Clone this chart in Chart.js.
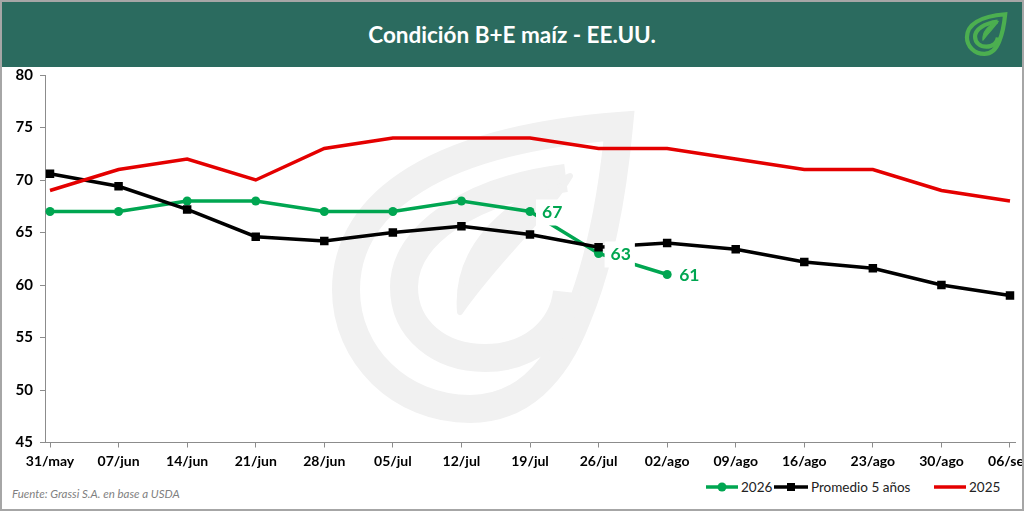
<!DOCTYPE html>
<html>
<head>
<meta charset="utf-8">
<script src="https://cdn.jsdelivr.net/npm/chart.js@4/dist/chart.umd.min.js"></script>
<style>
  html,body{margin:0;padding:0;background:#fff;}
  #wrap{position:relative;width:1024px;height:511px;overflow:hidden;background:#fff;font-family:Lato,"Open Sans",sans-serif;}
  #frame{position:absolute;left:0;top:0;width:1024px;height:511px;box-sizing:border-box;border:2px solid #a6a6a6;pointer-events:none;z-index:5;}
  #header{position:absolute;left:0;top:0;width:1024px;height:67px;background:#2b6b5f;}
  #title{position:absolute;left:0;top:0;width:1024px;height:67px;line-height:70px;text-align:center;color:#fff;font-weight:700;font-size:22.5px;}
  #wm{position:absolute;left:0;top:0;z-index:0;}
  #cv{position:absolute;left:0;top:67px;z-index:1;}
  .leg{position:absolute;top:478px;height:18px;display:flex;align-items:center;font-size:13.5px;color:#222;z-index:2;}
  .leg svg{display:block;margin-right:2px;}
  #src{position:absolute;left:12px;top:487px;font-size:11.5px;font-style:italic;color:#7f7f7f;z-index:2;}
</style>
</head>
<body>
<div id="wrap">
  <svg id="wm" width="1024" height="511" viewBox="0 0 1024 511">
    <g fill="none" stroke="#f1f1f1">
      <path d="M 619 126 C 612 200 600 262 577 318 C 555 375 520 409 470 409 C 400 409 346 355 346 290 C 346 200 440 140 619 126 Z" stroke-width="28" stroke-linejoin="miter"/>
      <path d="M 566 178 C 470 190 404 235 404 287 C 404 330 440 358 485 358 C 530 358 563 330 567 292" stroke-width="28"/>
      <path d="M 460 312 C 455 250 500 205 570 176 C 545 218 500 255 460 312 Z" fill="#f1f1f1" stroke-width="6" stroke-linejoin="round"/>
    </g>
  </svg>
  <div id="header"></div>
  <div id="title">Condición B+E maíz - EE.UU.</div>
  <svg style="position:absolute;left:0;top:0;z-index:3" width="1024" height="67" viewBox="0 0 1024 67">
    <g transform="translate(918.5,-3.4) scale(0.14)" fill="none" stroke="#4caf50">
      <path d="M 619 126 C 612 200 600 262 577 318 C 555 375 520 409 470 409 C 400 409 346 355 346 290 C 346 200 440 140 619 126 Z" stroke-width="30" stroke-linejoin="miter"/>
      <path d="M 566 178 C 470 190 404 235 404 287 C 404 330 440 358 485 358 C 530 358 563 330 567 292" stroke-width="30"/>
      <path d="M 460 312 C 455 250 500 205 570 176 C 545 218 500 255 460 312 Z" fill="#4caf50" stroke-width="8" stroke-linejoin="round"/>
    </g>
  </svg>
  <canvas id="cv" width="1024" height="408"></canvas>
  <div class="leg" style="left:705px"><svg width="34" height="12"><line x1="1" y1="6" x2="33" y2="6" stroke="#00a651" stroke-width="3.5"/><circle cx="17" cy="6" r="4.5" fill="#00a651"/></svg>2026</div>
  <div class="leg" style="left:773px"><svg width="36" height="12"><line x1="1" y1="6" x2="35" y2="6" stroke="#000" stroke-width="3.5"/><rect x="14" y="2" width="8" height="8" fill="#000"/></svg>Promedio 5 años</div>
  <div class="leg" style="left:933px"><svg width="34" height="12"><line x1="1" y1="6" x2="33" y2="6" stroke="#e40000" stroke-width="3.5"/></svg>2025</div>
  <div id="src">Fuente: Grassi S.A. en base a USDA</div>
  <div id="frame"></div>
</div>
<script>
const dates = ['31/may','07/jun','14/jun','21/jun','28/jun','05/jul','12/jul','19/jul','26/jul','02/ago','09/ago','16/ago','23/ago','30/ago','06/sep'];
const serie2026 = [67,67,68,68,67,67,68,67,63,61];
const promedio5 = [70.6,69.4,67.2,64.6,64.2,65.0,65.6,64.8,63.6,64.0,63.4,62.2,61.6,60.0,59.0];
const serie2025 = [69,71,72,70,73,74,74,74,73,73,72,71,71,69,68];
const labeledIdx2026 = [7,8,9];
const yTicks = [45,50,55,60,65,70,75,80];

const toXY = arr => arr.map((v,i)=>({x:i,y:v}));
const GREEN = '#00a651', RED = '#e40000', BLACK = '#000000';

const labelPlugin = {
  id:'lbl',
  afterDatasetsDraw(chart){
    const ctx = chart.ctx;
    const meta = chart.getDatasetMeta(0);
    ctx.save();
    ctx.font = 'bold 17.5px Lato, sans-serif';
    ctx.textBaseline = 'middle';
    ctx.textAlign = 'left';
    labeledIdx2026.forEach(i=>{
      const p = meta.data[i];
      const txt = String(serie2026[i]);
      const w = ctx.measureText(txt).width;
      const x = p.x + 12, y = p.y + 1;
      ctx.fillStyle = '#ffffff';
      ctx.fillRect(x-6, y-13, w+10, 26);
      ctx.fillStyle = GREEN;
      ctx.fillText(txt, x, y);
    });
    ctx.restore();
  }
};

new Chart(document.getElementById('cv'), {
  type:'line',
  data:{
    datasets:[
      {label:'2026', data:toXY(serie2026), borderColor:GREEN, backgroundColor:GREEN, borderWidth:3.5,
       pointStyle:'circle', pointRadius:4.5, pointBorderWidth:0, order:3, tension:0},
      {label:'Promedio 5 años', data:toXY(promedio5), borderColor:BLACK, backgroundColor:BLACK, borderWidth:3.5,
       pointStyle:'rect', pointRadius:6, pointBorderWidth:0, order:2, tension:0},
      {label:'2025', data:toXY(serie2025), borderColor:RED, backgroundColor:RED, borderWidth:3.5,
       pointRadius:0, order:1, tension:0}
    ]
  },
  options:{
    responsive:false,
    animation:false,
    layout:{padding:{top:8,right:9,left:0,bottom:0}},
    plugins:{legend:{display:false},tooltip:{enabled:false}},
    scales:{
      x:{
        type:'linear', min:-0.073, max:14.073,
        afterBuildTicks: s => { s.ticks = dates.map((d,i)=>({value:i})); },
        afterFit: s => { s.height = 32.5; s.paddingLeft = 0; s.paddingRight = 0; },
        ticks:{ autoSkip:false, maxRotation:0, minRotation:0, padding:6,
          callback:(v)=> dates[Math.round(v)] ?? '',
          font:{family:'Lato', weight:'bold', size:14}, color:'#000'},
        grid:{drawOnChartArea:false, drawTicks:true, tickLength:5, color:'#8c8c8c'},
        border:{color:'#8c8c8c', width:1}
      },
      y:{
        min:45, max:80,
        afterBuildTicks: s => { s.ticks = yTicks.map(v=>({value:v})); },
        afterFit: s => { s.width = 45; s.paddingTop = 0; s.paddingBottom = 0; },
        ticks:{ padding:7, font:{family:'Lato', weight:'bold', size:15}, color:'#000'},
        grid:{drawOnChartArea:false, drawTicks:true, tickLength:5, color:'#8c8c8c'},
        border:{color:'#8c8c8c', width:1}
      }
    }
  },
  plugins:[labelPlugin]
});
</script>
</body>
</html>
